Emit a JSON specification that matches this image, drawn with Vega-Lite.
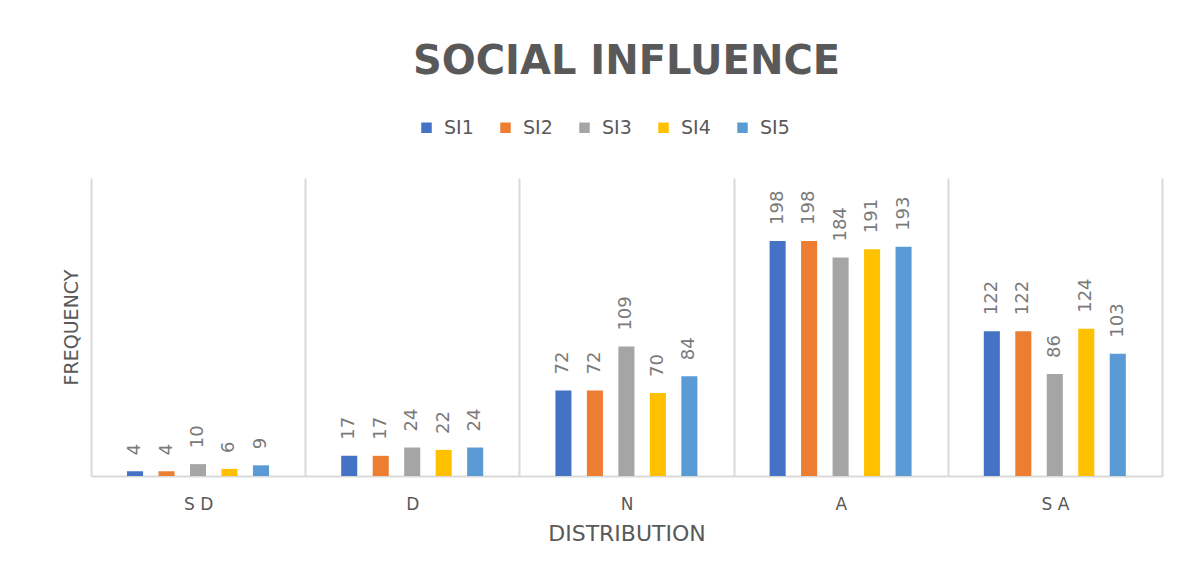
{
  "$schema": "https://vega.github.io/schema/vega-lite/v6.json",
  "autosize": {"type": "none"},
  "width": 1071,
  "height": 298,
  "padding": {"left": 91, "top": 178, "right": 22, "bottom": 100},
  "background": "white",
  "title": {
    "text": "SOCIAL  INFLUENCE",
    "font": "DejaVu Sans",
    "fontSize": 40,
    "fontWeight": "bold",
    "color": "#595959",
    "anchor": "middle",
    "offset": 36
  },
  "data": {
    "values": [
      {"cat": "SD", "item": "SI1", "freq": 4},
      {"cat": "SD", "item": "SI2", "freq": 4},
      {"cat": "SD", "item": "SI3", "freq": 10},
      {"cat": "SD", "item": "SI4", "freq": 6},
      {"cat": "SD", "item": "SI5", "freq": 9},
      {"cat": "D", "item": "SI1", "freq": 17},
      {"cat": "D", "item": "SI2", "freq": 17},
      {"cat": "D", "item": "SI3", "freq": 24},
      {"cat": "D", "item": "SI4", "freq": 22},
      {"cat": "D", "item": "SI5", "freq": 24},
      {"cat": "N", "item": "SI1", "freq": 72},
      {"cat": "N", "item": "SI2", "freq": 72},
      {"cat": "N", "item": "SI3", "freq": 109},
      {"cat": "N", "item": "SI4", "freq": 70},
      {"cat": "N", "item": "SI5", "freq": 84},
      {"cat": "A", "item": "SI1", "freq": 198},
      {"cat": "A", "item": "SI2", "freq": 198},
      {"cat": "A", "item": "SI3", "freq": 184},
      {"cat": "A", "item": "SI4", "freq": 191},
      {"cat": "A", "item": "SI5", "freq": 193},
      {"cat": "SA", "item": "SI1", "freq": 122},
      {"cat": "SA", "item": "SI2", "freq": 122},
      {"cat": "SA", "item": "SI3", "freq": 86},
      {"cat": "SA", "item": "SI4", "freq": 124},
      {"cat": "SA", "item": "SI5", "freq": 103}
    ]
  },
  "encoding": {
    "x": {
      "field": "cat",
      "type": "nominal",
      "sort": ["SD", "D", "N", "A", "SA"],
      "scale": {"paddingInner": 0, "paddingOuter": 0},
      "axis": {
        "title": "DISTRIBUTION",
        "labelAngle": 0,
        "labelExpr": "datum.label == 'SD' ? 'S D' : datum.label == 'SA' ? 'S A' : datum.label",
        "labelFont": "DejaVu Sans",
        "labelFontSize": 17,
        "labelColor": "#595959",
        "labelPadding": 20,
        "titleFont": "DejaVu Sans",
        "titleFontSize": 22,
        "titleFontWeight": "normal",
        "titleColor": "#595959",
        "titlePadding": 11,
        "ticks": false,
        "grid": true,
        "tickBand": "extent",
        "gridColor": "#d9d9d9",
        "gridWidth": 2,
        "domainColor": "#d9d9d9",
        "domainWidth": 2
      }
    },
    "xOffset": {
      "field": "item",
      "type": "nominal",
      "scale": {"range": [36, 178], "paddingInner": 0.49, "paddingOuter": 0}
    },
    "y": {
      "field": "freq",
      "type": "quantitative",
      "scale": {"domain": [0, 251], "nice": false},
      "axis": {
        "title": "FREQUENCY",
        "labels": false,
        "ticks": false,
        "domain": false,
        "grid": false,
        "titleFont": "DejaVu Sans",
        "titleFontSize": 19,
        "titleFontWeight": "normal",
        "titleColor": "#595959",
        "titlePadding": 10
      }
    }
  },
  "layer": [
    {
      "mark": {"type": "bar"},
      "encoding": {
        "color": {
          "field": "item",
          "type": "nominal",
          "scale": {
            "domain": ["SI1", "SI2", "SI3", "SI4", "SI5"],
            "range": ["#4472C4", "#ED7D31", "#A5A5A5", "#FFC000", "#5B9BD5"]
          },
          "legend": {
            "title": null,
            "orient": "none",
            "legendX": 326,
            "legendY": -60,
            "direction": "horizontal",
            "symbolType": "square",
            "symbolSize": 110,
            "symbolStrokeWidth": 0,
            "labelFont": "DejaVu Sans",
            "labelFontSize": 19,
            "labelColor": "#595959",
            "columnPadding": 22,
            "labelOffset": 8
          }
        }
      }
    },
    {
      "mark": {
        "type": "text",
        "angle": 270,
        "align": "left",
        "baseline": "middle",
        "dx": 16,
        "font": "DejaVu Sans",
        "fontSize": 18,
        "color": "#7a7a7a"
      },
      "encoding": {
        "text": {"field": "freq", "type": "quantitative"}
      }
    }
  ],
  "config": {
    "view": {"stroke": null}
  }
}
